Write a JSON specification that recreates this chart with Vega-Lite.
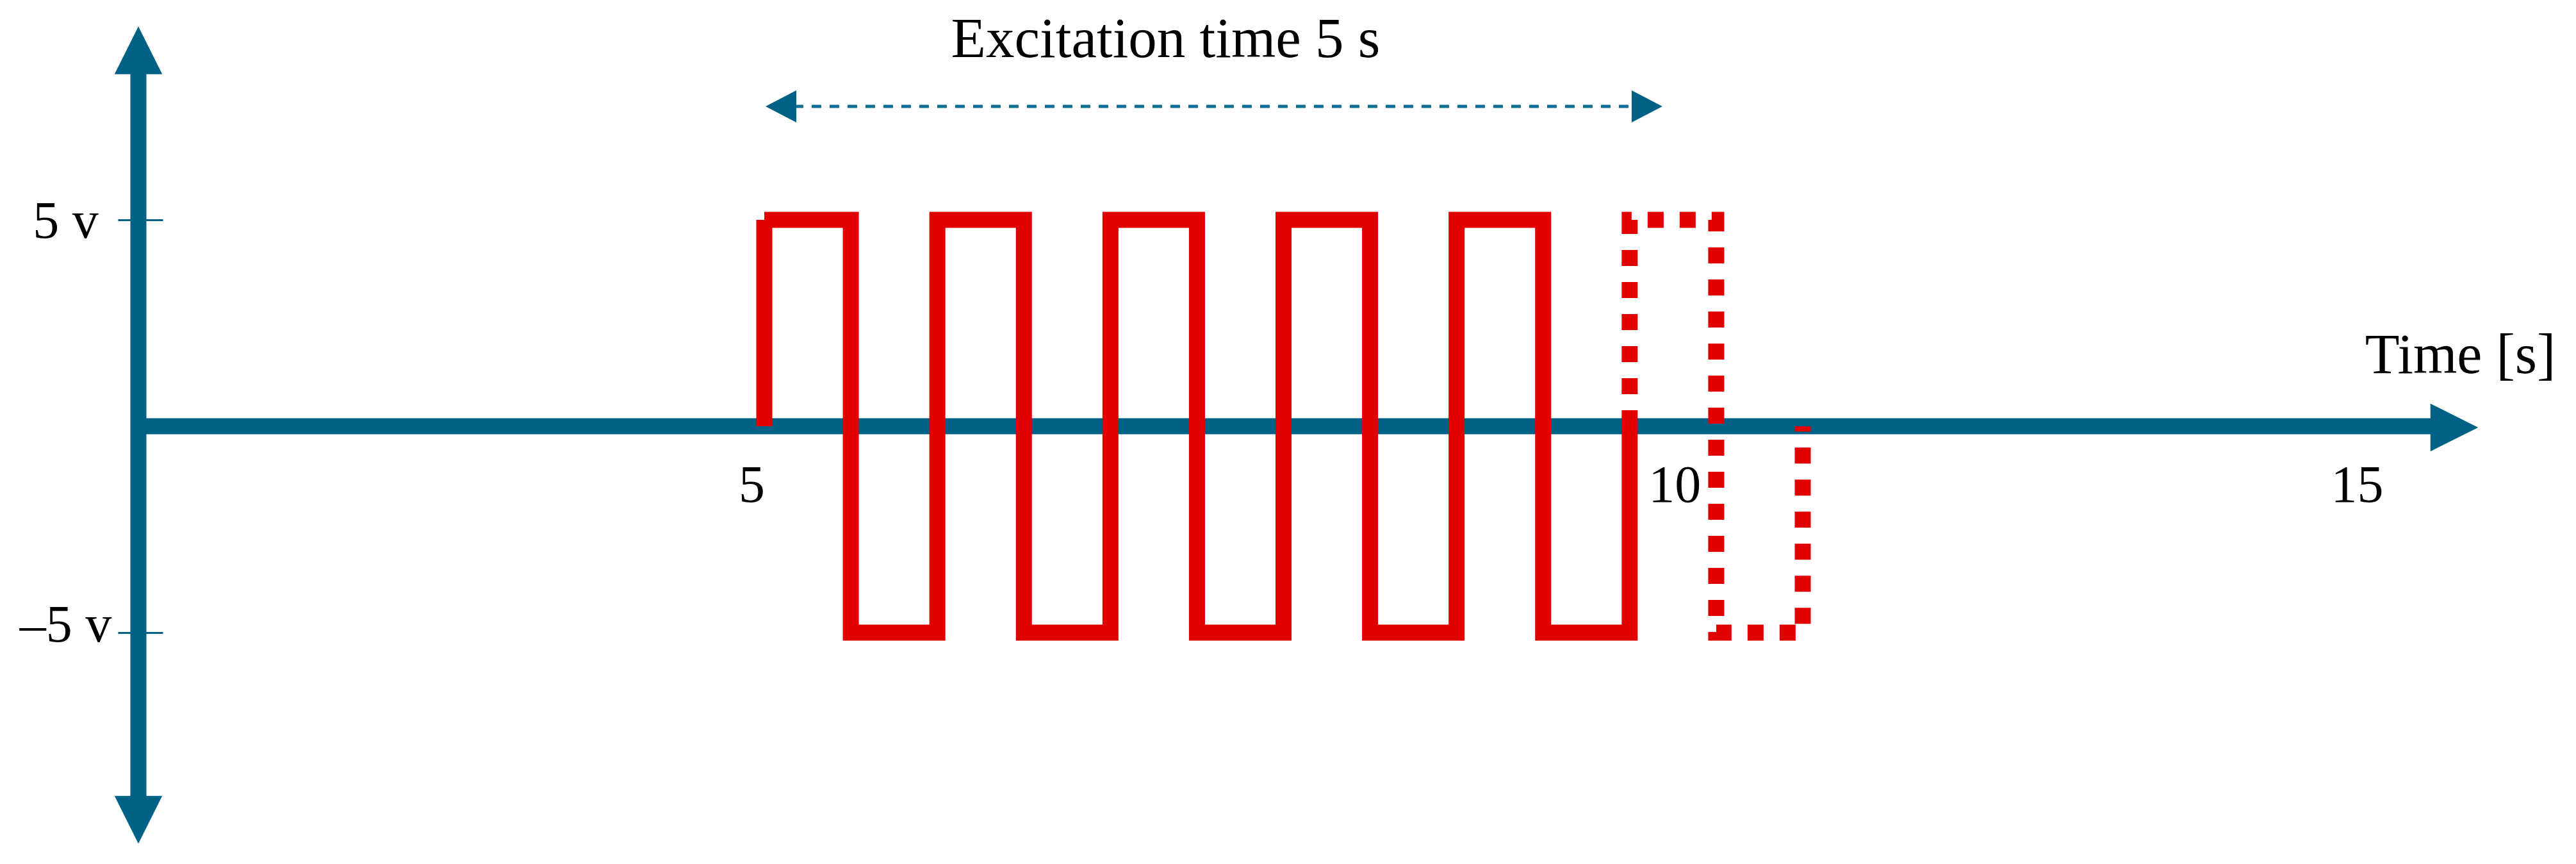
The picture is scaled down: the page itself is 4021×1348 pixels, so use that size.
{
  "$schema": "https://vega.github.io/schema/vega-lite/v6.json",
  "width": 4021,
  "height": 1348,
  "autosize": {"type": "none"},
  "padding": 0,
  "background": "white",
  "config": {"view": {"stroke": null}},
  "datasets": {
    "wave": [
      {"i": 0, "t": 5, "v": 0, "style": "solid"},
      {"i": 1, "t": 5, "v": 5, "style": "solid"},
      {"i": 2, "t": 5.5, "v": 5, "style": "solid"},
      {"i": 3, "t": 5.5, "v": -5, "style": "solid"},
      {"i": 4, "t": 6, "v": -5, "style": "solid"},
      {"i": 5, "t": 6, "v": 5, "style": "solid"},
      {"i": 6, "t": 6.5, "v": 5, "style": "solid"},
      {"i": 7, "t": 6.5, "v": -5, "style": "solid"},
      {"i": 8, "t": 7, "v": -5, "style": "solid"},
      {"i": 9, "t": 7, "v": 5, "style": "solid"},
      {"i": 10, "t": 7.5, "v": 5, "style": "solid"},
      {"i": 11, "t": 7.5, "v": -5, "style": "solid"},
      {"i": 12, "t": 8, "v": -5, "style": "solid"},
      {"i": 13, "t": 8, "v": 5, "style": "solid"},
      {"i": 14, "t": 8.5, "v": 5, "style": "solid"},
      {"i": 15, "t": 8.5, "v": -5, "style": "solid"},
      {"i": 16, "t": 9, "v": -5, "style": "solid"},
      {"i": 17, "t": 9, "v": 5, "style": "solid"},
      {"i": 18, "t": 9.5, "v": 5, "style": "solid"},
      {"i": 19, "t": 9.5, "v": -5, "style": "solid"},
      {"i": 20, "t": 10, "v": -5, "style": "solid"},
      {"i": 21, "t": 10, "v": 0, "style": "solid"},
      {"i": 22, "t": 10, "v": 0, "style": "dotted"},
      {"i": 23, "t": 10, "v": 5, "style": "dotted"},
      {"i": 24, "t": 10.5, "v": 5, "style": "dotted"},
      {"i": 25, "t": 10.5, "v": -5, "style": "dotted"},
      {"i": 26, "t": 11, "v": -5, "style": "dotted"},
      {"i": 27, "t": 11, "v": 0, "style": "dotted"}
    ],
    "shafts": [
      {"t": 0, "v": 0, "t2": 15.56, "v2": 0},
      {"t": 0, "v": -9.0, "t2": 0, "v2": 8.56}
    ],
    "heads": [
      {"t": 0, "v": 9.107, "dir": "up", "kind": "axis"},
      {"t": 0, "v": -9.534, "dir": "down", "kind": "axis"},
      {"t": 15.703, "v": -0.03, "dir": "right", "kind": "axis"},
      {"t": 5.0925, "v": 7.748, "dir": "dleft", "kind": "marker"},
      {"t": 10.104, "v": 7.748, "dir": "dright", "kind": "marker"}
    ],
    "span": [
      {"t": 5.17, "v": 7.748, "t2": 10.03, "v2": 7.748}
    ],
    "notes": [
      {"t": 7.319, "v": 8.944, "label": "Excitation time 5 s"}
    ]
  },
  "encoding": {
    "x": {
      "field": "t",
      "type": "quantitative",
      "scale": {"domain": [0, 5, 11, 15], "range": [216, 1193, 2814, 3679], "nice": false, "zero": false},
      "axis": {
        "values": [5, 10, 15],
        "domain": false,
        "ticks": false,
        "tickSize": 0,
        "grid": false,
        "offset": -683,
        "labelFont": "Liberation Serif",
        "labelFontSize": 82,
        "labelColor": "#000000",
        "labelBaseline": "alphabetic",
        "labelAlign": "center",
        "labelPadding": 117,
        "labelOffset": {"expr": "datum.value == 5 ? -20 : (datum.value == 10 ? 70 : 0)"},
        "labelFlush": false,
        "labelOverlap": false,
        "labelBound": false,
        "title": "Time [s]",
        "titleFont": "Liberation Serif",
        "titleFontSize": 88,
        "titleFontWeight": "normal",
        "titleColor": "#000000",
        "titleX": 3840,
        "titleY": -84,
        "titleAlign": "center",
        "titleBaseline": "alphabetic",
        "titleAngle": 0
      }
    },
    "y": {
      "field": "v",
      "type": "quantitative",
      "scale": {"domain": [-5, 5], "range": [987, 343], "nice": false, "zero": false},
      "axis": {
        "values": [-5, 5],
        "domain": false,
        "grid": false,
        "offset": -254,
        "tickColor": "#006186",
        "tickWidth": 3,
        "tickSize": 70,
        "labelExpr": "datum.value > 0 ? '5 v' : '\u20135 v'",
        "labelFont": "Liberation Serif",
        "labelFontSize": 82,
        "labelColor": "#000000",
        "labelAlign": "center",
        "labelBaseline": "middle",
        "labelPadding": 82,
        "labelOffset": {"expr": "datum.value < 0 ? -12 : 2"},
        "labelFlush": false,
        "labelOverlap": false,
        "labelBound": false,
        "title": null
      }
    }
  },
  "layer": [
    {
      "data": {"name": "shafts"},
      "mark": {"type": "rule", "color": "#006186", "strokeWidth": 25, "strokeCap": "butt"},
      "encoding": {
        "x2": {"field": "t2"},
        "y2": {"field": "v2"}
      }
    },
    {
      "data": {"name": "span"},
      "mark": {"type": "rule", "color": "#0f6f96", "strokeWidth": 5, "strokeCap": "butt", "strokeDash": [15, 13]},
      "encoding": {
        "x2": {"field": "t2"},
        "y2": {"field": "v2"}
      }
    },
    {
      "data": {"name": "heads"},
      "mark": {"type": "point", "filled": true, "color": "#006186", "opacity": 1, "strokeWidth": 0},
      "encoding": {
        "shape": {
          "field": "dir",
          "type": "nominal",
          "scale": {
            "domain": ["up", "down", "right", "dleft", "dright"],
            "range": ["M-1,1L0,-1L1,1Z", "M-1,-1L0,1L1,-1Z", "M-1,-1L1,0L-1,1Z", "M1,-1L-0.92,0L1,1Z", "M-1,-1L0.92,0L-1,1Z"]
          },
          "legend": null
        },
        "size": {
          "field": "kind",
          "type": "nominal",
          "scale": {"domain": ["axis", "marker"], "range": [5550, 2500]},
          "legend": null
        }
      }
    },
    {
      "data": {"name": "wave"},
      "mark": {"type": "line", "color": "#e10000", "strokeWidth": 25, "strokeJoin": "miter", "strokeCap": "butt"},
      "encoding": {
        "order": {"field": "i", "type": "quantitative"},
        "strokeDash": {
          "field": "style",
          "type": "nominal",
          "scale": {"domain": ["solid", "dotted"], "range": [[1, 0], [25, 25]]},
          "legend": null
        }
      }
    },
    {
      "data": {"name": "notes"},
      "mark": {"type": "text", "font": "Liberation Serif", "fontSize": 89, "color": "#000000", "align": "center", "baseline": "alphabetic"},
      "encoding": {
        "text": {"field": "label"}
      }
    }
  ]
}
